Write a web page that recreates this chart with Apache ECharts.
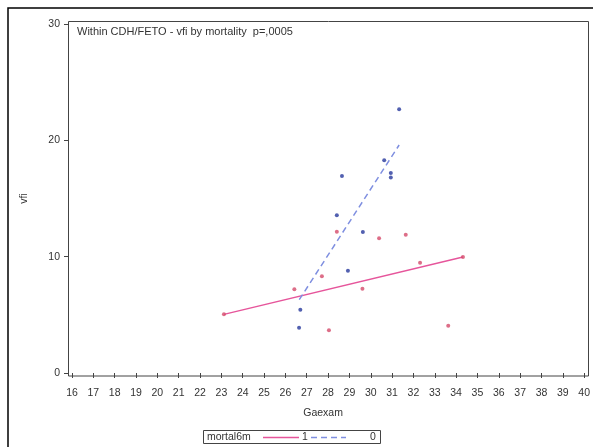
<!DOCTYPE html>
<html>
<head>
<meta charset="utf-8">
<script src="https://cdn.jsdelivr.net/npm/echarts@6/dist/echarts.min.js"></script>
<style>
html,body{margin:0;padding:0;background:#fff;}
#chart{width:593px;height:447px;}
</style>
</head>
<body>
<div id="chart"></div>
<script>
// mortal6m = 1 (died) points: [Gaexam, vfi]
const died = [[23.12,5.04],[26.42,7.2],[27.71,8.31],[28.04,3.67],[28.41,12.15],[29.61,7.25],[30.39,11.58],[31.64,11.89],[32.31,9.48],[33.63,4.07],[34.32,9.97]];
// mortal6m = 0 (survived) points
const survived = [[26.64,3.9],[26.7,5.44],[28.41,13.56],[28.65,16.94],[28.93,8.8],[29.63,12.12],[30.63,18.28],[30.94,17.2],[30.94,16.8],[31.33,22.67]];
// fitted regression lines (endpoints)
const diedFit = [[23.12,5.04],[34.32,9.97]];
const survivedFit = [[26.65,6.3],[31.33,19.6]];
const xTicks = {min:16, max:40, interval:1};
const yTicks = {min:0, max:30, interval:10};
const titleText = 'Within CDH/FETO - vfi by mortality  p=,0005';
const legendTitle = 'mortal6m';
const legendLabels = ['1', '0'];

const font = 'Arial, "Liberation Sans", sans-serif';
const pink = '#e6559b', blue = '#7f8fe0';
const chart = echarts.init(document.getElementById('chart'));
chart.setOption({
  animation:false,
  backgroundColor:'#fff',
  grid:{left:72, right:7, top:24, bottom:74},
  xAxis:{type:'value', min:xTicks.min, max:xTicks.max, interval:xTicks.interval, offset:3,
    name:'Gaexam', nameLocation:'middle', nameGap:32,
    nameTextStyle:{fontFamily:font, fontSize:10.5, color:'#333', padding:[0,10,0,0]},
    axisLine:{show:false}, splitLine:{show:false},
    axisTick:{show:true, length:5, lineStyle:{color:'#444'}},
    axisLabel:{fontFamily:font, fontSize:10.5, color:'#333', margin:12}},
  yAxis:{type:'value', min:yTicks.min, max:yTicks.max, interval:yTicks.interval, offset:4,
    name:'vfi', nameLocation:'middle', nameGap:38, nameRotate:90,
    nameTextStyle:{fontFamily:font, fontSize:10.5, color:'#333'},
    axisLine:{show:false}, splitLine:{show:false},
    axisTick:{show:true, length:4, lineStyle:{color:'#444'}},
    axisLabel:{fontFamily:font, fontSize:10.5, color:'#333', margin:8}},
  graphic:[
    {type:'rect', shape:{x:8, y:8, width:600, height:460}, style:{fill:'none', stroke:'#000', lineWidth:1.5}, silent:true},
    {type:'rect', shape:{x:68.5, y:21.5, width:520, height:354.5}, style:{fill:'none', stroke:'#444', lineWidth:1}, silent:true},
    {type:'text', left:77, top:26, style:{text:titleText, font:'11px Arial, "Liberation Sans", sans-serif', fill:'#333'}},
    {type:'rect', shape:{x:203.5, y:430.5, width:177, height:13}, style:{fill:'none', stroke:'#444', lineWidth:1}, silent:true},
    {type:'text', left:207, top:431.5, style:{text:legendTitle, font:'10.5px Arial, "Liberation Sans", sans-serif', fill:'#333'}},
    {type:'line', shape:{x1:263, y1:437.5, x2:299, y2:437.5}, style:{stroke:pink, lineWidth:1.5}},
    {type:'text', left:302, top:431.5, style:{text:legendLabels[0], font:'10.5px Arial, "Liberation Sans", sans-serif', fill:'#333'}},
    {type:'line', shape:{x1:311, y1:437.5, x2:346, y2:437.5}, style:{stroke:blue, lineWidth:1.5, lineDash:[6,4]}},
    {type:'text', left:370, top:431.5, style:{text:legendLabels[1], font:'10.5px Arial, "Liberation Sans", sans-serif', fill:'#333'}}
  ],
  series:[
    {name:'1', type:'scatter', data:died, symbol:'circle', symbolSize:4, itemStyle:{color:'#d44a6a'}, z:3},
    {name:'0', type:'scatter', data:survived, symbol:'circle', symbolSize:4, itemStyle:{color:'#27389c'}, z:3},
    {name:'1', type:'line', data:diedFit, symbol:'none', lineStyle:{color:pink, width:1.5}, z:2},
    {name:'0', type:'line', data:survivedFit, symbol:'none', lineStyle:{color:blue, width:1.5, type:[6,4]}, z:2}
  ]
});
</script>
</body>
</html>
